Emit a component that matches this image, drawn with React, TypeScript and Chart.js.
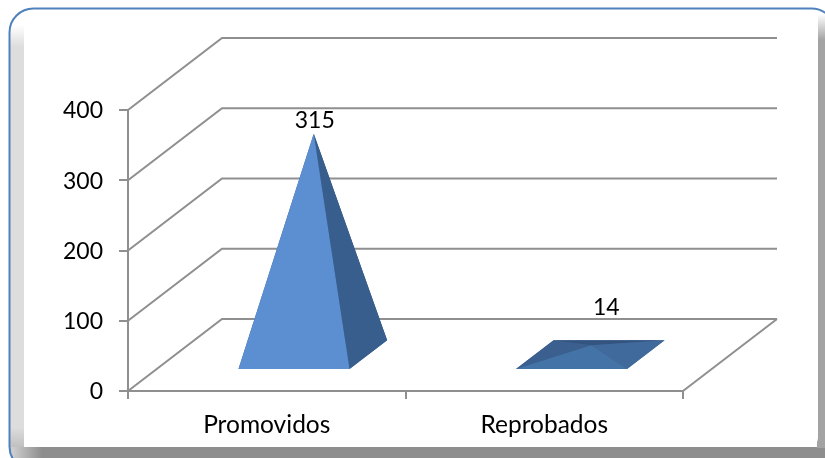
import React, { useEffect, useRef } from "react";
import { Chart, BarController, registerables } from "chart.js";

Chart.register(...registerables);

const categories = ["Promovidos", "Reprobados"];
const alumnos = [315, 14];
const yTicks = [0, 100, 200, 300, 400];

const FONT = "Lato, sans-serif";
const GRID = "#8f8f8f";
const DEPTH_X = 94;
const DEPTH_Y = 72;
const BAR_DEPTH_NEAR = 0.29;
const BAR_DEPTH_FAR = 0.69;
const BAR_DEPTH_MID = 0.5;
const LABEL_SHIFT = [
  { x: 1, y: -13 },
  { x: 15, y: -38 },
];
const FACE_COLORS = [
  { front: "#5b8fd1", right: "#385e8d", left: "#385e8d", back: "#2f4d74" },
  { front: "#4473a8", right: "#406a9c", left: "#3b5f8e", back: "#33547f" },
];

class Pyramid3DController extends BarController {
  static id = "pyramid3d";
  static defaults = BarController.defaults;
  static overrides = BarController.overrides;
  draw() {
    const ctx = this.chart.ctx;
    const elements = this.getMeta().data as any[];
    elements.forEach((el, i) => {
      const half = el.width / 2;
      const colors = FACE_COLORS[i];
      const pt = (xx: number, d: number, yy: number): [number, number] => [xx + d * DEPTH_X, yy - d * DEPTH_Y];
      const fl = pt(el.x - half, BAR_DEPTH_NEAR, el.base);
      const fr = pt(el.x + half, BAR_DEPTH_NEAR, el.base);
      const bl = pt(el.x - half, BAR_DEPTH_FAR, el.base);
      const br = pt(el.x + half, BAR_DEPTH_FAR, el.base);
      const apex = pt(el.x, BAR_DEPTH_MID, el.y);
      ctx.beginPath();
      ctx.moveTo(fl[0], fl[1]);
      ctx.lineTo(fr[0], fr[1]);
      ctx.lineTo(br[0], br[1]);
      ctx.lineTo(bl[0], bl[1]);
      ctx.closePath();
      ctx.fillStyle = colors.left;
      ctx.fill();
      const face = (c: string, a: [number, number], b: [number, number]) => {
        ctx.beginPath();
        ctx.moveTo(a[0], a[1]);
        ctx.lineTo(b[0], b[1]);
        ctx.lineTo(apex[0], apex[1]);
        ctx.closePath();
        ctx.fillStyle = c;
        ctx.fill();
      };
      face(colors.back, bl, br);
      face(colors.left, fl, bl);
      face(colors.right, fr, br);
      face(colors.front, fl, fr);
    });
  }
}
Chart.register(Pyramid3DController);

const framePlugin = {
  id: "frame",
  beforeDraw(chart: any) {
    const { ctx, width, height } = chart;
    ctx.save();
    ctx.fillStyle = "#ffffff";
    ctx.fillRect(0, 0, width, height);
    const outer = () => {
      ctx.beginPath();
      ctx.roundRect(9.5, 8.5, 826, 462, 24);
    };
    ctx.save();
    outer();
    ctx.clip();
    ctx.fillStyle = "#ffffff";
    ctx.fillRect(0, 0, width, height);
    const left = ctx.createLinearGradient(0, 25, 0, height);
    left.addColorStop(0, "#ffffff");
    left.addColorStop(0.05, "#dddddd");
    left.addColorStop(0.93, "#dddddd");
    left.addColorStop(1, "#b0b0b0");
    ctx.fillStyle = left;
    ctx.fillRect(10, 25, 14, height);
    const bottom = ctx.createLinearGradient(12, 0, 42, 0);
    bottom.addColorStop(0, "#cfcfcf");
    bottom.addColorStop(1, "#8e8e8e");
    ctx.fillStyle = bottom;
    ctx.fillRect(10, 447, width, 11);
    const right = ctx.createLinearGradient(0, 14, 0, 40);
    right.addColorStop(0, "#ffffff");
    right.addColorStop(1, "#a3a3a3");
    ctx.fillStyle = right;
    ctx.fillRect(817, 14, 8, 434);
    ctx.fillStyle = "#ffffff";
    ctx.beginPath();
    ctx.roundRect(24, 9, 794, 438, [0, 0, 9, 9]);
    ctx.fill();
    ctx.restore();
    outer();
    ctx.strokeStyle = "#4f81bd";
    ctx.lineWidth = 2;
    ctx.stroke();
    ctx.restore();
  },
};

const wallsPlugin = {
  id: "walls",
  beforeDatasetsDraw(chart: any) {
    const { ctx } = chart;
    const xs = chart.scales.x;
    const ys = chart.scales.y;
    ctx.save();
    ctx.strokeStyle = GRID;
    ctx.lineWidth = 2;
    ctx.lineJoin = "miter";
    yTicks.forEach((t) => {
      const y = ys.getPixelForValue(t);
      ctx.beginPath();
      ctx.moveTo(xs.left, y);
      ctx.lineTo(xs.left + DEPTH_X, y - DEPTH_Y);
      ctx.lineTo(xs.right + DEPTH_X, y - DEPTH_Y);
      ctx.stroke();
    });
    const y0 = ys.getPixelForValue(0);
    ctx.beginPath();
    ctx.moveTo(xs.right, y0);
    ctx.lineTo(xs.right + DEPTH_X, y0 - DEPTH_Y);
    ctx.stroke();
    ctx.restore();
  },
  afterDatasetsDraw(chart: any) {
    const { ctx } = chart;
    const els = chart.getDatasetMeta(0).data;
    const ys = chart.scales.y;
    ctx.save();
    ctx.font = `23px ${FONT}`;
    ctx.fillStyle = "#000000";
    ctx.textAlign = "center";
    ctx.textBaseline = "middle";
    els.forEach((el: any, i: number) => {
      const x = el.x + BAR_DEPTH_MID * DEPTH_X + LABEL_SHIFT[i].x;
      const y = el.y - BAR_DEPTH_MID * DEPTH_Y + LABEL_SHIFT[i].y;
      ctx.fillText(String(alumnos[i]), x, y);
    });
    ctx.textAlign = "right";
    yTicks.forEach((t) => {
      ctx.fillText(String(t), ys.right - 25, ys.getPixelForValue(t) + 1);
    });
    ctx.restore();
  },
};

export default function App() {
  const ref = useRef<HTMLCanvasElement>(null);
  useEffect(() => {
    document.body.style.margin = "0";
    const chart = new Chart(ref.current as HTMLCanvasElement, {
      type: "pyramid3d" as any,
      data: {
        labels: categories,
        datasets: [
          {
            label: "Alumnos",
            data: alumnos,
            barPercentage: 0.4,
            categoryPercentage: 1,
            clip: false,
          } as any,
        ],
      },
      options: {
        responsive: false,
        animation: false,
        layout: { padding: { top: 110, right: 142, left: 0, bottom: 0 } },
        plugins: { legend: { display: false }, tooltip: { enabled: false }, title: { display: false } },
        scales: {
          x: {
            type: "category",
            offset: true,
            afterFit: (s: any) => {
              s.height = 67;
            },
            border: { display: true, color: GRID, width: 2 },
            grid: { display: true, offset: true, drawOnChartArea: false, drawTicks: true, tickLength: 8, color: GRID, lineWidth: 2 },
            ticks: { color: "#000000", font: { family: FONT, size: 24.5 }, padding: 11, maxRotation: 0, autoSkip: false },
          },
          y: {
            type: "linear",
            min: 0,
            max: 400,
            afterFit: (s: any) => {
              s.width = 128;
            },
            afterBuildTicks: (s: any) => {
              s.ticks = yTicks.map((value) => ({ value }));
            },
            border: { display: true, color: GRID, width: 2 },
            grid: { display: true, drawOnChartArea: false, drawTicks: true, tickLength: 9, color: GRID, lineWidth: 2 },
            ticks: { display: false },
          },
        },
      },
      plugins: [framePlugin, wallsPlugin],
    } as any);
    return () => chart.destroy();
  }, []);
  return <canvas ref={ref} width={825} height={458} style={{ display: "block", width: 825, height: 458 }} />;
}
